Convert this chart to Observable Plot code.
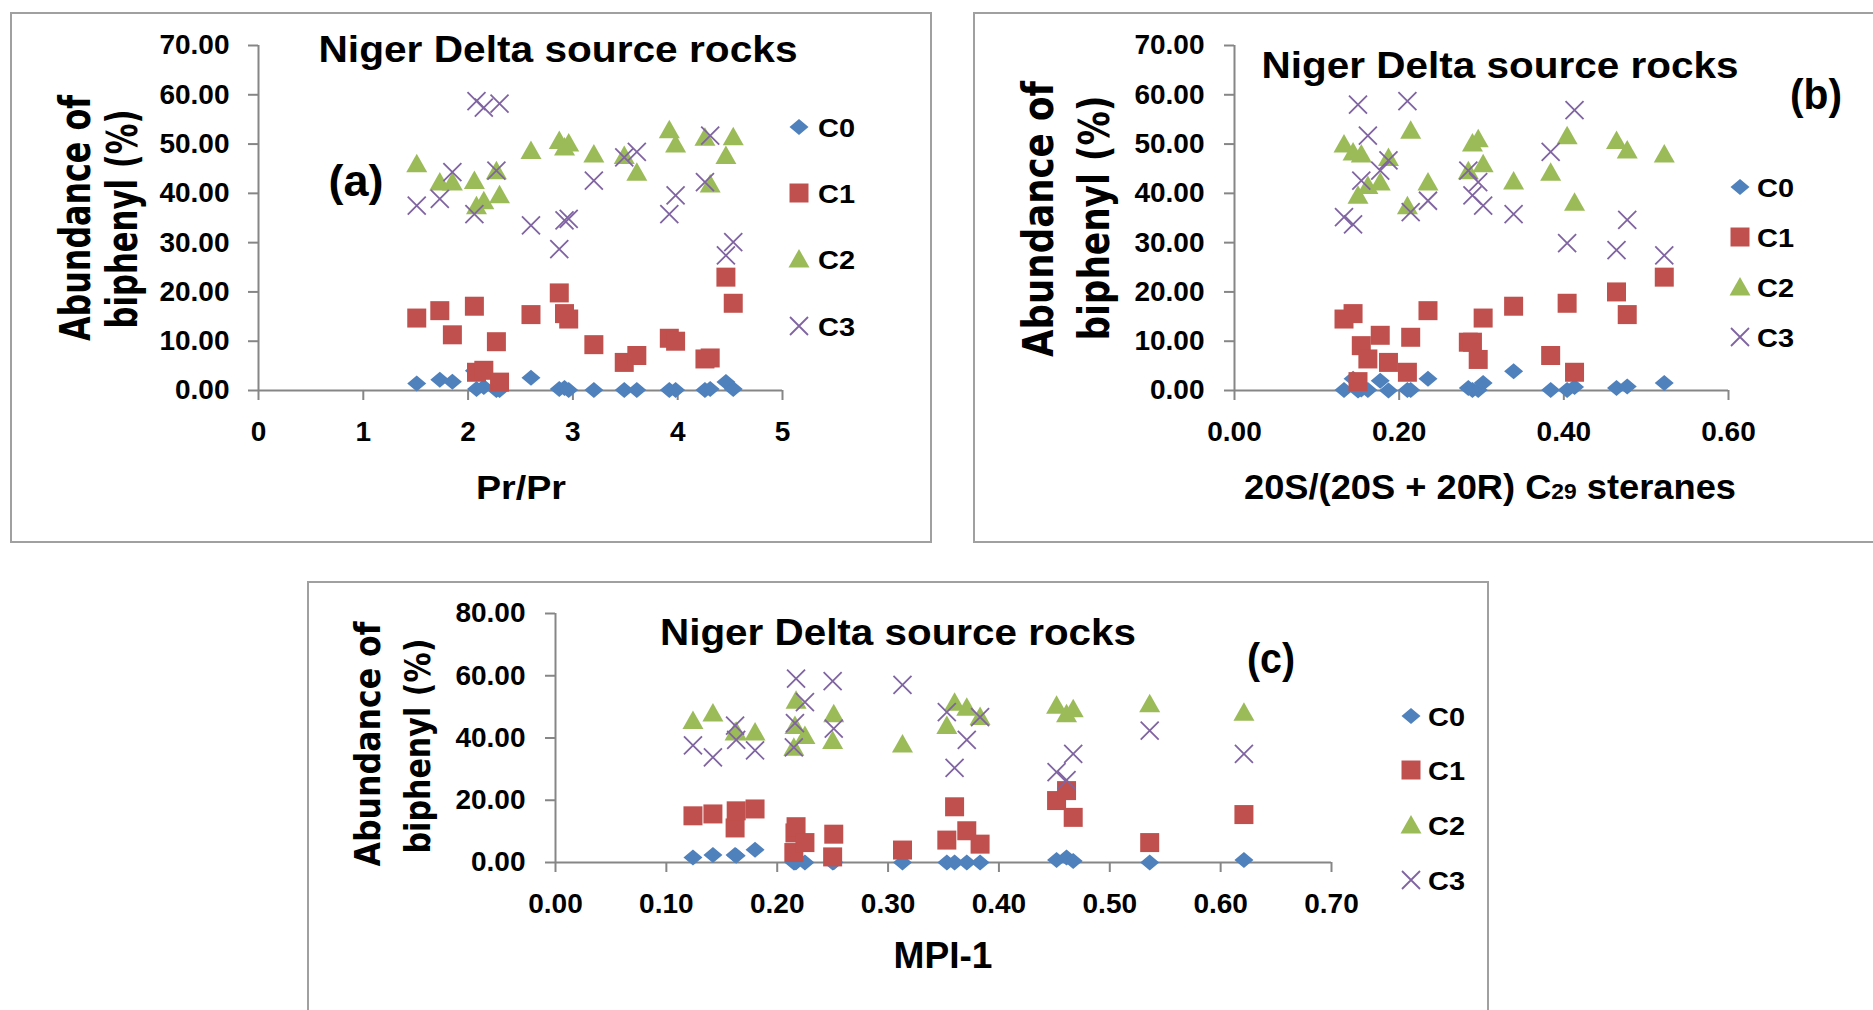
<!DOCTYPE html>
<html><head><meta charset="utf-8">
<script src="https://cdn.jsdelivr.net/npm/d3@7"></script>
<script src="https://cdn.jsdelivr.net/npm/@observablehq/plot@0.6"></script>
<style>
html,body{margin:0;padding:0;background:#fff;}
#page{position:relative;width:1873px;height:1010px;overflow:hidden;background:#fff;}
.box{position:absolute;border:2px solid #a0a0a0;box-sizing:border-box;}
.plot{position:absolute;}
#overlay{position:absolute;left:0;top:0;pointer-events:none;}
</style></head><body><div id="page"></div>
<script>
// ---------- data ----------
const seriesNames = ["C0", "C1", "C2", "C3"];
const seriesColors = ["#4F81BD", "#C0504D", "#9BBB59", "#8064A2"];

// (a) Pr/Ph
const xA  = [1.51,1.73,1.85,2.06,2.08,2.15,2.27,2.30,2.60,2.87,2.92,2.96,3.20,3.49,3.61,3.92,3.98,4.26,4.31,4.46,4.53];
const c0A = [1.4,2.2,1.8,4.0,0.3,0.7,0.1,0.1,2.6,0.3,0.5,0.1,0.1,0.1,0.1,0.1,0.1,0.1,0.3,1.7,0.3];
const c1A = [14.7,16.2,11.3,17.1,3.7,4.1,9.9,1.7,15.4,19.8,15.6,14.5,9.3,5.7,7.1,10.6,10.0,6.4,6.6,23.0,17.7];
const c2A = [46.0,42.3,42.3,42.6,37.5,38.5,44.6,39.7,48.7,50.7,49.4,50.2,48.0,47.7,44.3,52.9,50.0,51.4,41.9,47.7,51.5];
const c3A = [37.5,38.9,44.3,35.8,58.7,57.4,44.6,58.2,33.5,28.7,34.5,34.8,42.6,47.3,48.4,35.8,39.6,42.3,51.7,27.4,30.1];
const xTicksA = [0,1,2,3,4,5];
const yTicksA = [0,10,20,30,40,50,60,70];

// (b) 20S/(20S+20R) C29 steranes
const xB  = [0.133,0.144,0.150,0.154,0.162,0.177,0.187,0.210,0.214,0.235,0.284,0.289,0.296,0.302,0.339,0.384,0.404,0.413,0.464,0.477,0.522];
const c0B = [0.1,2.4,0.0,0.2,0.1,2.0,0.0,0.1,0.1,2.4,0.5,0.1,0.1,1.5,3.9,0.1,0.1,0.7,0.5,0.8,1.5];
const c1B = [14.5,15.6,1.8,9.1,6.4,11.2,5.7,3.7,10.8,16.2,9.8,9.8,6.3,14.7,17.1,7.1,17.7,3.7,20.0,15.4,23.0];
const c2B = [50.0,48.4,39.6,48.0,41.6,42.3,47.3,37.5,52.8,42.3,44.6,50.2,51.1,46.0,42.5,44.3,51.7,38.2,50.7,48.8,48.0];
const c3B = [35.2,33.7,58.0,42.6,51.7,44.6,46.7,58.7,36.2,38.5,44.6,39.6,42.3,37.5,35.8,48.4,29.9,56.9,28.5,34.6,27.4];
const xTicksB = [0, 0.2, 0.4, 0.6];
const yTicksB = [0,10,20,30,40,50,60,70];

// (c) MPI-1
const xC  = [0.124,0.142,0.162,0.163,0.180,0.215,0.216,0.217,0.225,0.250,0.251,0.313,0.353,0.360,0.371,0.383,0.452,0.461,0.467,0.536,0.621];
const c0C = [1.6,2.4,2.4,2.2,4.1,0.0,0.0,0.1,0.0,0.0,0.1,0.0,0.0,0.0,0.0,0.0,0.8,1.6,0.5,0.0,0.8];
const c1C = [15.0,15.6,11.1,16.6,17.2,3.2,9.5,11.5,6.4,1.8,9.1,4.0,7.2,17.9,10.2,5.9,19.9,23.1,14.5,6.4,15.4];
const c2C = [45.6,48.0,41.9,42.2,41.9,37.0,44.0,52.1,40.8,39.2,47.8,38.1,44.0,51.5,49.9,46.9,50.5,47.8,49.4,51.0,48.3];
const c3C = [37.6,33.8,44.0,39.4,36.0,37.0,44.8,59.1,51.5,58.3,43.0,57.1,48.3,30.4,39.4,46.7,29.0,26.5,34.9,42.4,34.9];
const xTicksC = [0,0.1,0.2,0.3,0.4,0.5,0.6,0.7];
const yTicksC = [0,20,40,60,80];

// ---------- symbols (Excel-like markers) ----------
const symDiamond = {draw(c){c.moveTo(0,-8);c.lineTo(9.5,0);c.lineTo(0,8);c.lineTo(-9.5,0);c.closePath();}};
const symSquare  = {draw(c){c.moveTo(-9.5,-9.5);c.lineTo(9.5,-9.5);c.lineTo(9.5,9.5);c.lineTo(-9.5,9.5);c.closePath();}};
const symTriangle= {draw(c){c.moveTo(0,-10);c.lineTo(10.5,8.5);c.lineTo(-10.5,8.5);c.closePath();}};
const symTimes   = {draw(c){c.moveTo(-9,-9);c.lineTo(9,9);c.moveTo(9,-9);c.lineTo(-9,9);}};
const symbols = [symDiamond, symSquare, symTriangle, symTimes];

const FONT = "'Liberation Sans', Arial, sans-serif";
const AXIS = "#868686";

const page = document.getElementById("page");

// boxes
[[10,12,922,531],[973,12,920,531],[307,581,1182,440]].forEach(([l,t,w,h])=>{
  const d=document.createElement("div"); d.className="box";
  Object.assign(d.style,{left:l+"px",top:t+"px",width:w+"px",height:h+"px"});
  page.appendChild(d);
});

const panels = [
  {xs:xA, ys:[c0A,c1A,c2A,c3A], left:160, top:0, w:700, h:480, ml:98, mr:78, mt:45, mb:90,
   xDomain:[0,5], yDomain:[0,70], xTicks:xTicksA, yTicks:yTicksA, xFmt:d=>d3.format("d")(d), padX:21, padY:19},
  {xs:xB, ys:[c0B,c1B,c2B,c3B], left:1130, top:0, w:680, h:480, ml:104, mr:82, mt:45, mb:90,
   xDomain:[0,0.6], yDomain:[0,70], xTicks:xTicksB, yTicks:yTicksB, xFmt:d=>d.toFixed(2), padX:21, padY:20},
  {xs:xC, ys:[c0C,c1C,c2C,c3C], left:440, top:560, w:960, h:360, ml:115, mr:69, mt:53, mb:58,
   xDomain:[0,0.7], yDomain:[0,80], xTicks:xTicksC, yTicks:yTicksC, xFmt:d=>d.toFixed(2), padX:21, padY:20}
];

panels.forEach(p=>{
  const dots = p.ys.map((ys,k)=>{
    const data = p.xs.map((x,i)=>({x, y: ys[i]}));
    return k===3
      ? Plot.dot(data,{x:"x",y:"y",symbol:symbols[k],r:8,fill:"none",stroke:seriesColors[k],strokeWidth:1.8})
      : Plot.dot(data,{x:"x",y:"y",symbol:symbols[k],r:8,fill:seriesColors[k],stroke:"none"});
  });
  const chart = Plot.plot({
    width:p.w, height:p.h, marginLeft:p.ml, marginRight:p.mr, marginTop:p.mt, marginBottom:p.mb,
    style:{background:"transparent", fontFamily:FONT, fontSize:"28px", fontWeight:"bold", color:"#000", overflow:"visible"},
    x:{domain:p.xDomain, label:null},
    y:{domain:p.yDomain, label:null},
    marks:[
      Plot.axisY({ticks:p.yTicks, tickSize:10, tickPadding:p.padY, tickFormat:d=>d.toFixed(2), stroke:AXIS, strokeWidth:2, fill:"#000", label:null, fontSize:28, fontWeight:"bold"}),
      Plot.axisX({ticks:p.xTicks, tickSize:10, tickPadding:p.padX, tickFormat:p.xFmt, stroke:AXIS, strokeWidth:2, fill:"#000", label:null, fontSize:28, fontWeight:"bold"}),
      Plot.ruleX([0],{stroke:AXIS, strokeWidth:2}),
      Plot.ruleY([0],{stroke:AXIS, strokeWidth:2}),
      ...dots
    ]
  });
  chart.classList.add("plot");
  chart.style.left = p.left+"px"; chart.style.top = p.top+"px";
  page.appendChild(chart);
});

// ---------- overlay: titles, labels, legends ----------
const svg = d3.select(page).append("svg").attr("id","overlay").attr("width",1873).attr("height",1010);
function txt(x,y,s,o){
  const t = svg.append("text").attr("x",x).attr("y",y)
    .attr("font-family",o.family||FONT).attr("font-weight","bold").attr("font-size",o.size)
    .attr("text-anchor",o.anchor||"middle").attr("fill","#000");
  if(o.len){t.attr("textLength",o.len).attr("lengthAdjust","spacingAndGlyphs");}
  if(o.rot){t.attr("x",0).attr("y",0).attr("transform",`translate(${x},${y}) rotate(-90)`);}
  if(typeof s==="string") t.text(s); else s(t);
  return t;
}
const title = "Niger Delta source rocks";
txt(558,62,title,{size:36,len:479});
txt(1500,78,title,{size:36,len:477});
txt(898,645,title,{size:36,len:476});
txt(356,196,"(a)",{size:44,len:55});
txt(1816,109,"(b)",{size:42,len:52});
txt(1271,673,"(c)",{size:42,len:48});
txt(521,499,"Pr/Pr",{size:34,len:90});
txt(1490,499,t=>{t.append("tspan").text("20S/(20S + 20R) C");t.append("tspan").attr("font-size",22).text("29");t.append("tspan").text(" steranes");},{size:35,len:492});
txt(943,968,"MPI-1",{size:36,len:99});

const YF = "'DejaVu Sans', Verdana, sans-serif";
// y-axis titles (two lines, rotated)
[[90,218,137,219,43,246,219],[1053,219,1109,218,43,276,245],[380,744,430,746,36,245,215]].forEach(([x1,y1,x2,y2,fs,l1,l2])=>{
  txt(x1,y1,"Abundance of",{size:fs,len:l1,rot:true,family:YF});
  txt(x2,y2,"biphenyl (%)",{size:fs,len:l2,rot:true,family:YF});
});

// legends
const legends = [
  {mx:799, tx:818, ys:[127,193,259,326]},
  {mx:1740, tx:1757, ys:[187,237,287,337]},
  {mx:1411, tx:1428, ys:[716,770,825,880]}
];
legends.forEach(L=>{
  seriesNames.forEach((name,k)=>{
    const pth = d3.path(); symbols[k].draw(pth);
    const p = svg.append("path").attr("d",pth.toString()).attr("transform",`translate(${L.mx},${L.ys[k]})`);
    if(k===3) p.attr("fill","none").attr("stroke",seriesColors[k]).attr("stroke-width",1.8);
    else p.attr("fill",seriesColors[k]);
    txt(L.tx, L.ys[k]+10, name, {size:26, anchor:"start", len:37});
  });
});
</script></body></html>
